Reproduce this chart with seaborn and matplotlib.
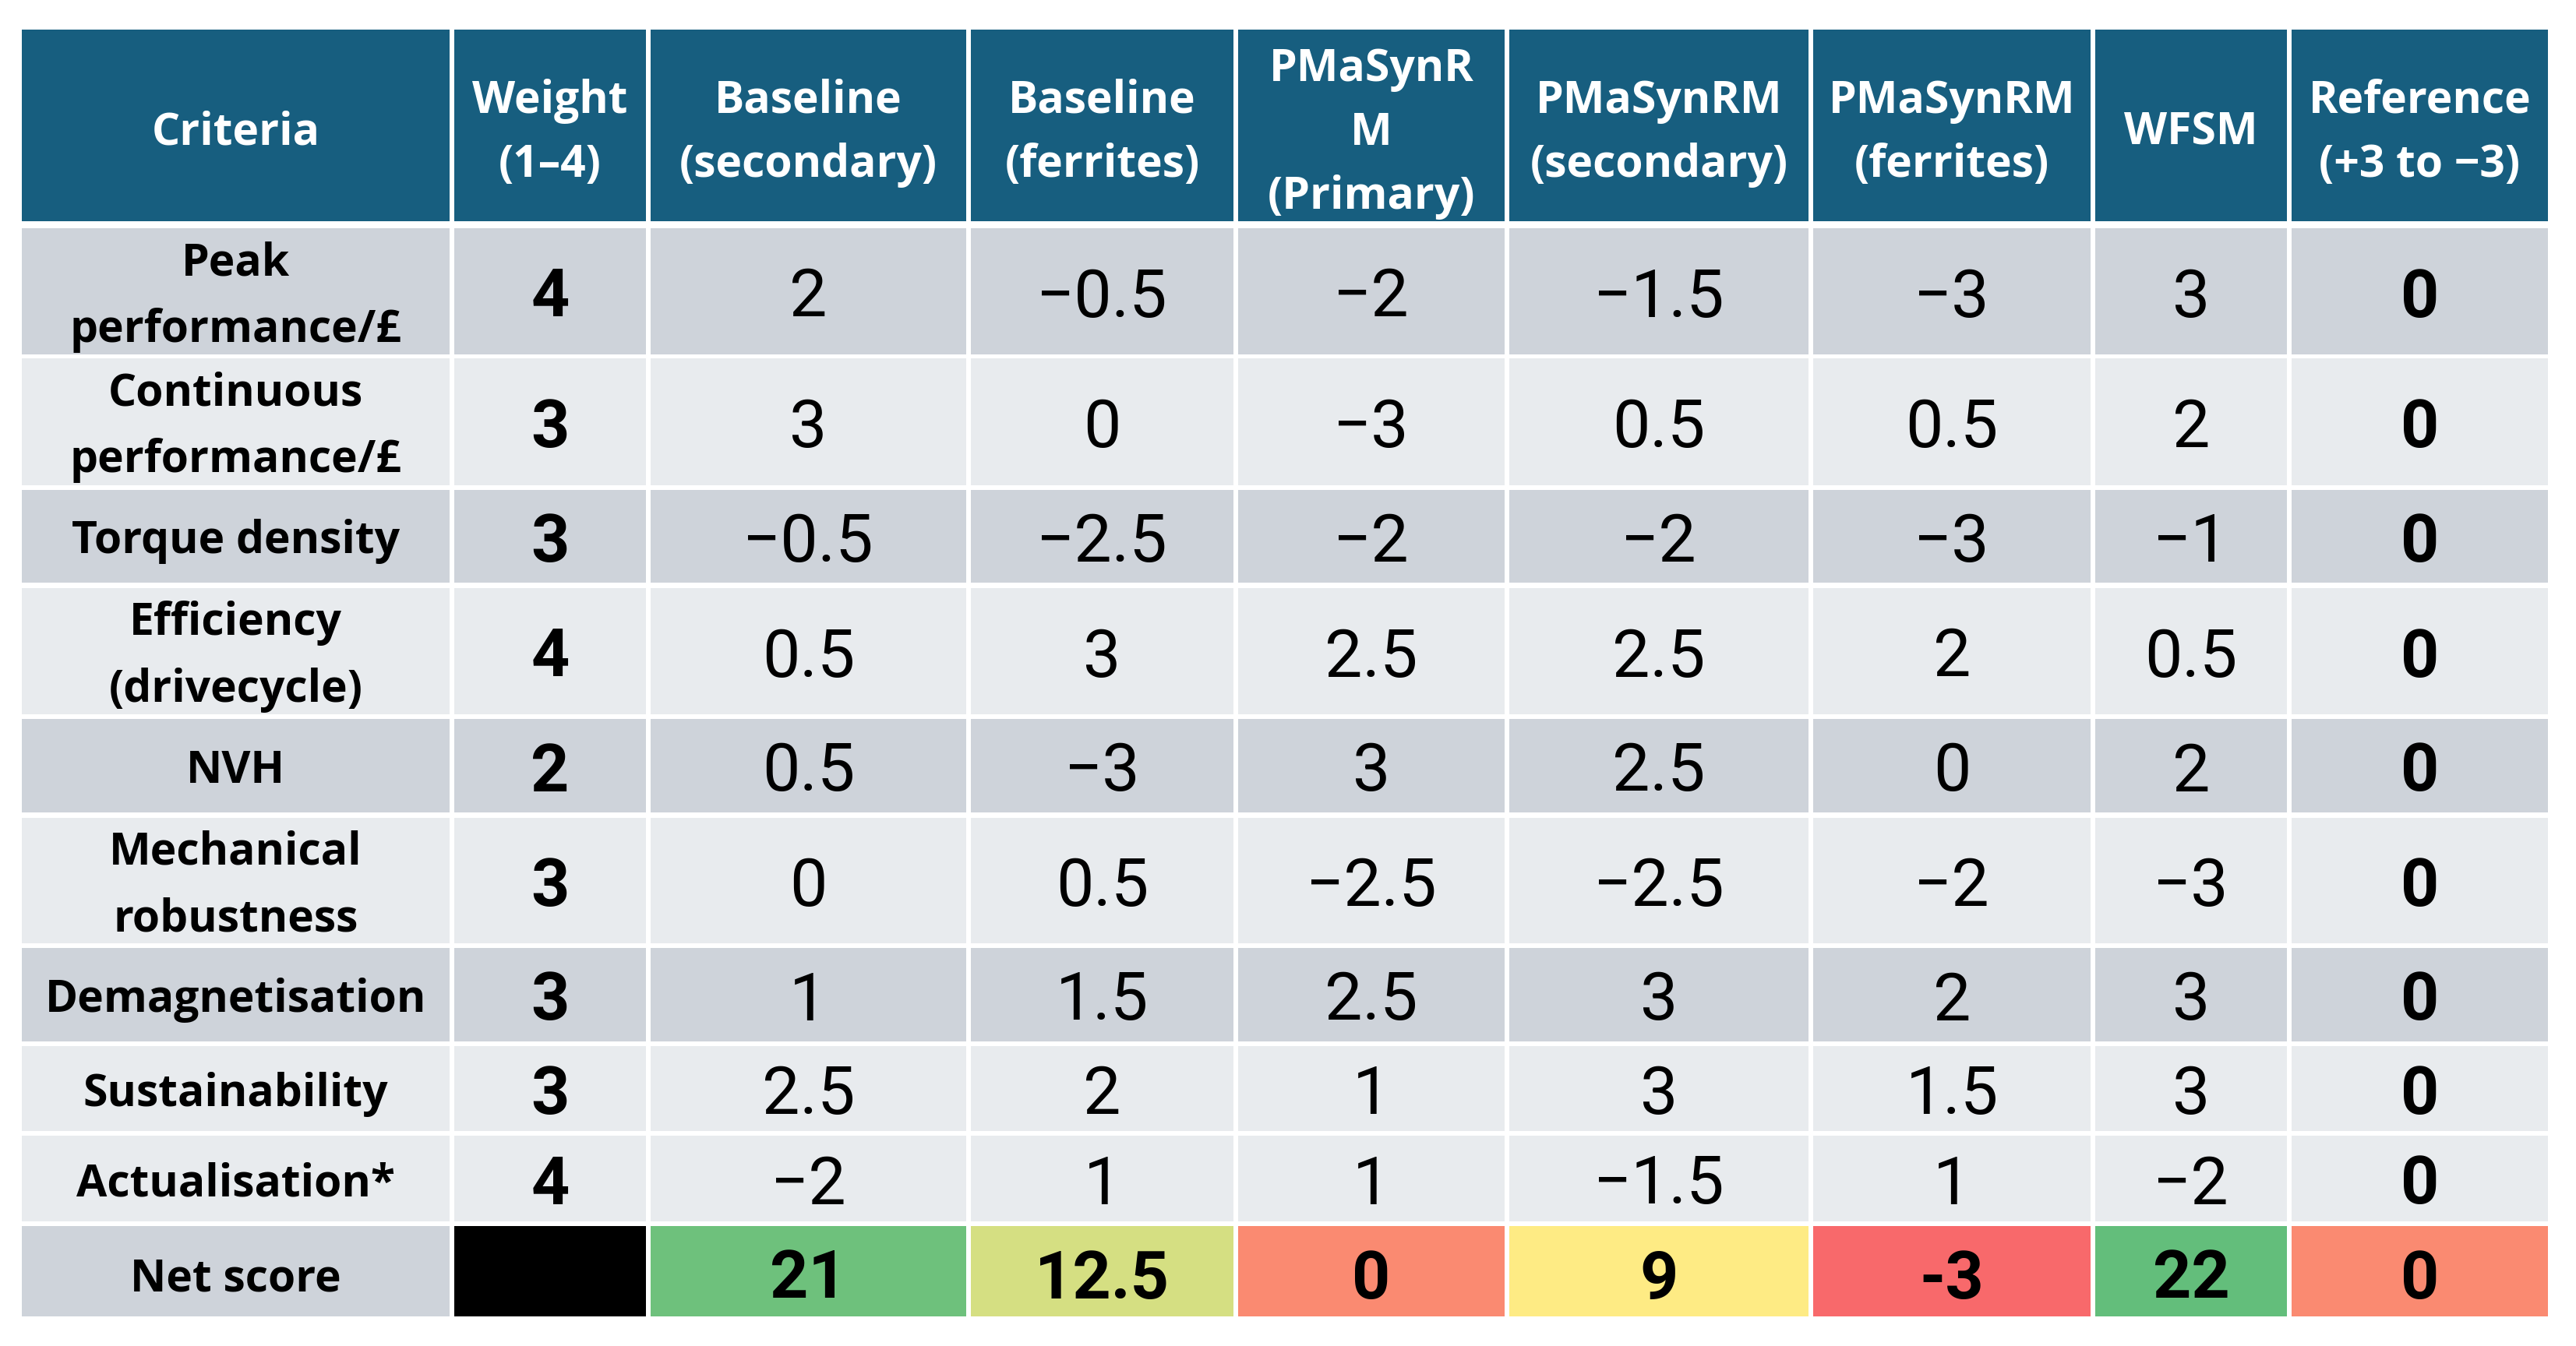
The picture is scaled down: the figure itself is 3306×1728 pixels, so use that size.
import numpy as np
import matplotlib
matplotlib.use("Agg")
import matplotlib.pyplot as plt
import matplotlib.colors as mcolors
import seaborn as sns

# table content
headers = ["Criteria", "Weight\n(1–4)", "Baseline\n(secondary)", "Baseline\n(ferrites)",
           "PMaSynR\nM\n(Primary)", "PMaSynRM\n(secondary)", "PMaSynRM\n(ferrites)",
           "WFSM", "Reference\n(+3 to −3)"]
criteria = ["Peak\nperformance/£", "Continuous\nperformance/£", "Torque density",
            "Efficiency\n(drivecycle)", "NVH", "Mechanical\nrobustness",
            "Demagnetisation", "Sustainability", "Actualisation*"]
weights = [4, 3, 3, 4, 2, 3, 3, 3, 4]
baseline_secondary = [2, 3, -0.5, 0.5, 0.5, 0, 1, 2.5, -2]
baseline_ferrites = [-0.5, 0, -2.5, 3, -3, 0.5, 1.5, 2, 1]
pmasynrm_primary = [-2, -3, -2, 2.5, 3, -2.5, 2.5, 1, 1]
pmasynrm_secondary = [-1.5, 0.5, -2, 2.5, 2.5, -2.5, 3, 3, -1.5]
pmasynrm_ferrites = [-3, 0.5, -3, 2, 0, -2, 2, 1.5, 1]
wfsm = [3, 2, -1, 0.5, 2, -3, 3, 3, -2]
reference = [0, 0, 0, 0, 0, 0, 0, 0, 0]
net_scores = [21, 12.5, 0, 9, -3, 22, 0]

# layout in pixels
col_left = [28, 583, 835, 1246, 1589, 1937, 2327, 2689, 2941]
col_right = [577, 829, 1240, 1583, 1931, 2321, 2683, 2935, 3270]
row_top = [38, 293, 460, 629, 755, 923, 1050, 1217, 1343, 1458, 1574]
row_bot = [284, 455, 623, 748, 917, 1043, 1211, 1337, 1452, 1568, 1690]
row_dark = [True, False, True, False, True, False, True, False, False]

header_col = "#175E7F"
dark_col = "#CED3DA"
light_col = "#E8EBEE"

sns.set_theme(style="white")
plt.rcParams['font.family'] = ['Roboto', 'DejaVu Sans']
label_font = ['Open Sans', 'DejaVu Sans']

fig = plt.figure(figsize=(33.06, 17.28), dpi=100)
ax = fig.add_axes([0, 0, 1, 1])
ax.set_xlim(0, 3306)
ax.set_ylim(1728, 0)
ax.axis("off")

cx = [(l + r) / 2 for l, r in zip(col_left, col_right)]
cy = [(t + b) / 2 for t, b in zip(row_top, row_bot)]
widths = [r - l for l, r in zip(col_left, col_right)]


def cell(ci, ri, color):
    ax.bar(col_left[ci], row_bot[ri] - row_top[ri], width=widths[ci],
           bottom=row_top[ri], align="edge", color=color, linewidth=0)


def fmt(v):
    return f"{v:g}".replace("-", "−")


small = 41
big = 62
num_dy = 9

# header
for ci, h in enumerate(headers):
    cell(ci, 0, header_col)
    ax.text(cx[ci], cy[0] + 10, h, ha="center", va="center", color="white",
            fontsize=small, fontweight="bold", linespacing=1.55, family=label_font)

score_cols = [baseline_secondary, baseline_ferrites, pmasynrm_primary,
              pmasynrm_secondary, pmasynrm_ferrites, wfsm]

for i in range(len(criteria)):
    ri = i + 1
    shade = dark_col if row_dark[i] else light_col
    for ci in range(len(headers)):
        cell(ci, ri, shade)
    ax.text(cx[0], cy[ri] + 7, criteria[i], ha="center", va="center",
            fontsize=small, fontweight="bold", color="black", linespacing=1.62,
            family=label_font)
    ax.text(cx[1], cy[ri] + num_dy, str(weights[i]), ha="center", va="center",
            fontsize=big, fontweight="bold", color="black")
    for k, col in enumerate(score_cols):
        ax.text(cx[2 + k], cy[ri] + num_dy, fmt(col[i]), ha="center", va="center",
                fontsize=big, color="black")
    ax.text(cx[8], cy[ri] + num_dy, fmt(reference[i]), ha="center", va="center",
            fontsize=big, fontweight="bold", color="black")

# net score row, coloured with a red-yellow-green scale
ri = len(row_top) - 1
cell(0, ri, dark_col)
ax.text(cx[0], cy[ri] + 10, "Net score", ha="center", va="center",
        fontsize=small, fontweight="bold", color="black", family=label_font)
cell(1, ri, "black")
cmap = mcolors.LinearSegmentedColormap.from_list("ryg", ["#F8696B", "#FFEB84", "#63BE7B"])
norm = mcolors.TwoSlopeNorm(vmin=min(net_scores), vcenter=float(np.median(net_scores)),
                            vmax=max(net_scores))
for k, v in enumerate(net_scores):
    cell(2 + k, ri, cmap(norm(v)))
    ax.text(cx[2 + k], cy[ri] + num_dy + 2, f"{v:g}", ha="center", va="center",
            fontsize=big, fontweight="bold", color="black")

fig.savefig("out.png", dpi=100, facecolor="white")
